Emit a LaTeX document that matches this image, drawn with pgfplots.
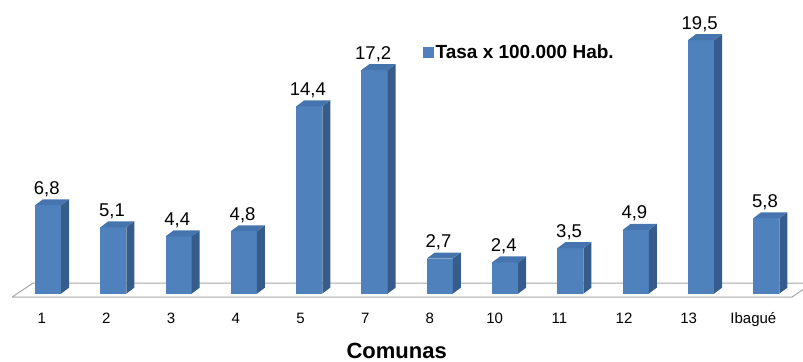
\documentclass[border=0pt]{standalone}
\usepackage{fontspec}
\setmainfont{Liberation Sans}
\usepackage{pgfplots}
\usepackage{pgfplotstable}
\pgfplotsset{compat=1.18}
\definecolor{barfront}{HTML}{4F81BD}
\definecolor{barside}{HTML}{365C8C}
\definecolor{bartop}{HTML}{4574AE}
\definecolor{floorgray}{HTML}{A6A6A6}
\pgfplotstableread{
x v lab
0 6.8 6,8
1 5.1 5,1
2 4.4 4,4
3 4.8 4,8
4 14.4 14,4
5 17.2 17,2
6 2.7 2,7
7 2.4 2,4
8 3.5 3,5
9 4.9 4,9
10 19.5 19,5
11 5.8 5,8
}\datatable
\begin{document}
\begin{tikzpicture}
\begin{axis}[
  scale only axis, width=803bp, height=361bp,
  xmin=-0.735, xmax=11.562, ymin=-5.19, ymax=22.58,
  axis line style={draw=none},
  ytick=\empty,
  xtick={-0.0965,0.8943,1.8851,2.8759,3.8667,4.8576,5.8484,6.8392,7.8300,8.8208,9.8116,10.8024},
  xticklabels={1,2,3,4,5,7,8,10,11,12,13,Ibagué},
  major tick length=0pt,
  xticklabel style={anchor=base, yshift=38bp, font=\fontsize{15bp}{17bp}\selectfont},
  legend style={at={(rel axis cs:0.5268,0.856)}, anchor=west, draw=none, fill=none, inner sep=0pt,
    font=\fontsize{19bp}{21bp}\selectfont\bfseries,
    /tikz/every even column/.append style={column sep=0bp}},
]
\addlegendimage{legend image code/.code={\fill[barfront] (0bp,-5bp) rectangle (10bp,5bp);}}
\addlegendentry{Tasa x 100.000 Hab.}
% floor
\addplot[fill=white, draw=floorgray, line width=1bp] coordinates {(-0.551,-0.27) (11.39,-0.27) (11.71,0.81) (-0.23,0.81) (-0.551,-0.27)};
\pgfplotsforeachungrouped \i in {0,...,11}{
  \pgfplotstablegetelem{\i}{v}\of\datatable \let\val\pgfplotsretval
  \pgfplotstablegetelem{\i}{lab}\of\datatable \let\lab\pgfplotsretval
  \pgfmathsetmacro\xl{\i-0.2}
  \pgfmathsetmacro\xr{\i+0.2}
  \pgfmathsetmacro\xs{\i+0.2+0.1225}
  \pgfmathsetmacro\xls{\i-0.2+0.1225}
  \pgfmathsetmacro\vt{\val+0.46}
  \pgfmathsetmacro\xlab{\i-0.02}
  \edef\cmd{%
    \noexpand\addplot[fill=barfront, draw=none] coordinates {(\xl,0) (\xr,0) (\xr,\val) (\xl,\val)};
    \noexpand\addplot[fill=barside, draw=none] coordinates {(\xr,0) (\xs,0.46) (\xs,\vt) (\xr,\val)};
    \noexpand\addplot[fill=bartop, draw=none] coordinates {(\xl,\val) (\xr,\val) (\xs,\vt) (\xls,\vt)};
    \noexpand\node[anchor=base, yshift=5bp, inner sep=0pt, font=\noexpand\fontsize{18.5bp}{20bp}\noexpand\selectfont] at (axis cs:\xlab,\vt) {\lab};
  }%
  \cmd
}
\node[anchor=base, inner sep=0pt, font=\fontsize{22bp}{24bp}\selectfont\bfseries] at (rel axis cs:0.494,0.008) {Comunas};
\end{axis}
\end{tikzpicture}
\end{document}
